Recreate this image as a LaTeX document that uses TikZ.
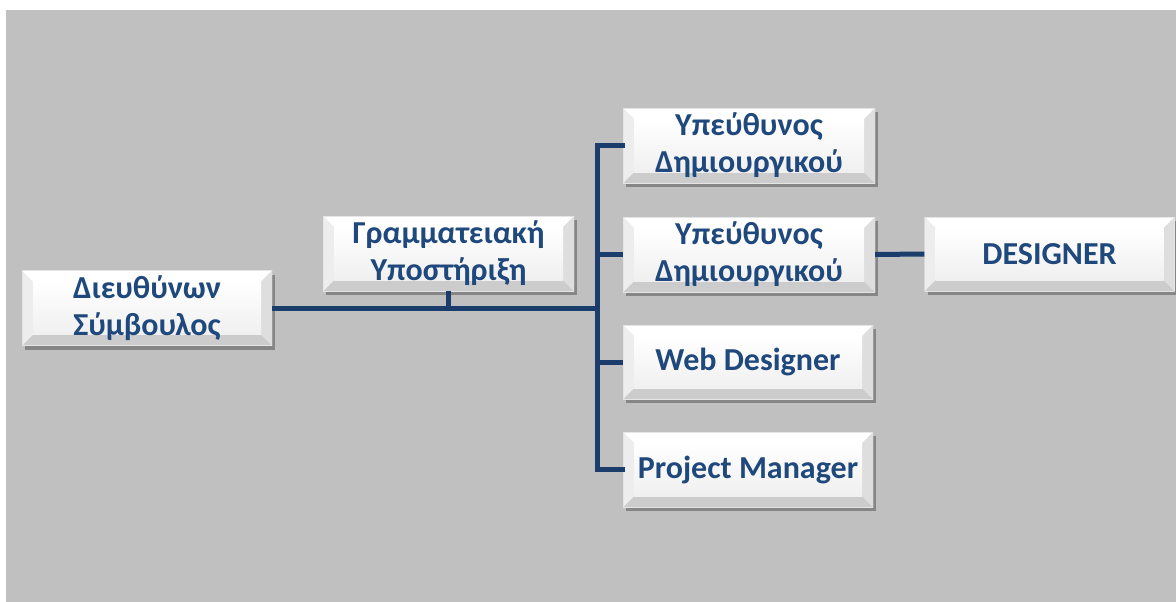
\documentclass[tikz,border=0pt]{standalone}
\usepackage{fontspec}
\setmainfont{Carlito}
\usetikzlibrary{shadows}
\definecolor{bggray}{HTML}{C0C0C0}
\definecolor{navy}{HTML}{1B3D6C}
\definecolor{txtblue}{HTML}{1F487C}
\tikzset{
  bevbox/.style={
    rectangle, inner sep=0pt, minimum width=250pt, minimum height=75pt,
    align=center, text=txtblue, font=\fontsize{32}{37}\selectfont\bfseries,
    fill=white,
    drop shadow={shadow xshift=3pt, shadow yshift=-4pt, fill=black, opacity=0.3},
    path picture={
      \coordinate (NW) at (path picture bounding box.north west);
      \coordinate (NE) at (path picture bounding box.north east);
      \coordinate (SW) at (path picture bounding box.south west);
      \coordinate (SE) at (path picture bounding box.south east);
      \coordinate (iNW) at ([xshift=11pt,yshift=-11pt]NW);
      \coordinate (iNE) at ([xshift=-11pt,yshift=-11pt]NE);
      \coordinate (iSW) at ([xshift=11pt,yshift=11pt]SW);
      \coordinate (iSE) at ([xshift=-11pt,yshift=11pt]SE);
      \fill[white] (NW) -- (NE) -- (iNE) -- (iNW) -- cycle;
      \fill[black!20] (SW) -- (SE) -- (iSE) -- (iSW) -- cycle;
      \fill[black!7] (NW) -- (iNW) -- (iSW) -- (SW) -- cycle;
      \fill[black!13] (NE) -- (iNE) -- (iSE) -- (SE) -- cycle;
      \shade[top color=white, bottom color=black!6] (iNW) rectangle (iSE);
      \draw[black!10, line width=0.6pt] (NW) rectangle (SE);
    }
  },
  conn/.style={draw=navy, line width=5pt}
}
\begin{document}
\begin{tikzpicture}[x=1pt,y=-1pt]
\useasboundingbox (0,0) rectangle (1176,602);
\fill[white] (0,0) rectangle (1176,602);
\fill[bggray] (6,10) rectangle (1176,602);

\node[bevbox] (ceo) at (147,308) {Διευθύνων\\Σύμβουλος};
\node[bevbox, minimum width=251pt] (gram) at (448.5,253.5) {Γραμματειακή\\Υποστήριξη};
\node[bevbox, minimum width=252pt] (u1) at (749,145.5) {Υπεύθυνος\\Δημιουργικού};
\node[bevbox, minimum width=252pt] (u2) at (749,254.5) {Υπεύθυνος\\Δημιουργικού};
\node[bevbox, minimum height=74pt] (des) at (1049.5,254) {DESIGNER};
\node[bevbox, minimum height=74pt] (web) at (748,362) {Web Designer};
\node[bevbox] (pm) at (748,469.5) {Project Manager};

\coordinate (j) at (597,308);

\draw[conn] (ceo.east) -- (j);
\draw[conn] (gram.south) -- (gram.south |- j);
\draw[conn, line cap=rect] (j) |- (u1.west);
\draw[conn] (j) |- (u2.west);
\draw[conn] (j) |- (web.west);
\draw[conn, line cap=rect] (j) |- (pm.west);
\draw[conn] (u2.east) -- (des.west);
\end{tikzpicture}
\end{document}
